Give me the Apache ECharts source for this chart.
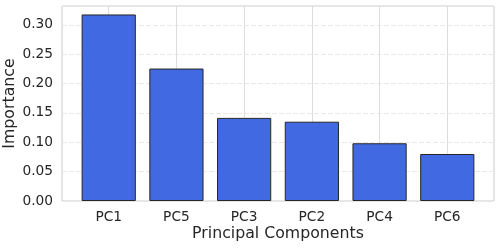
<!DOCTYPE html>
<html>
<head>
<meta charset="utf-8">
<script src="https://cdn.jsdelivr.net/npm/echarts@6/dist/echarts.min.js"></script>
<style>html,body{margin:0;padding:0;background:#fff}#c{width:500px;height:249px}</style>
</head>
<body>
<div id="c"></div>
<script>
var categories = ['PC1', 'PC5', 'PC3', 'PC2', 'PC4', 'PC6'];
var importance = [0.3176, 0.2255, 0.1415, 0.1350, 0.0983, 0.0800];
var yTicks = [0, 0.05, 0.10, 0.15, 0.20, 0.25, 0.30];

var positions = categories.map(function (c, i) { return i; });
var data = categories.map(function (c, i) { return [i, importance[i]]; });

var chart = echarts.init(document.getElementById('c'), null, {renderer: 'canvas'});
var font = 'DejaVu Sans';
var txt = '#262626';
chart.setOption({
  animation: false,
  backgroundColor: '#ffffff',
  grid: {left: 62, right: 6, top: 6, bottom: 48, containLabel: false, outerBoundsMode: 'none',
    show: true, borderColor: '#cccccc', borderWidth: 1, backgroundColor: '#ffffff'},
  xAxis: {
    type: 'value', min: -0.69, max: 5.69,
    name: 'Principal Components', nameLocation: 'middle', nameGap: 25, nameMoveOverlap: false,
    nameTextStyle: {fontFamily: font, fontSize: 15.75, color: txt},
    axisLine: {show: false},
    axisTick: {show: false, customValues: positions},
    axisLabel: {customValues: positions, fontFamily: font, fontSize: 13.75, color: txt, margin: 9,
      formatter: function (v) { return categories[Math.round(v)]; }},
    splitLine: {show: true, lineStyle: {color: '#dddddd', width: 1}}
  },
  yAxis: {
    type: 'value', min: 0, max: 0.332, interval: 0.05,
    name: 'Importance', nameLocation: 'middle', nameGap: 44, nameMoveOverlap: false,
    nameTextStyle: {fontFamily: font, fontSize: 15.75, color: txt},
    axisLine: {show: false},
    axisTick: {show: false},
    axisLabel: {fontFamily: font, fontSize: 13.75, color: txt, margin: 9, showMaxLabel: false,
      formatter: function (v) { return yTicks.some(function (t) { return Math.abs(t - v) < 1e-9; }) ? v.toFixed(2) : ''; }},
    splitLine: {show: true, lineStyle: {color: '#e8e8e8', width: 1, type: [5, 2]}}
  },
  series: [{
    type: 'bar',
    data: data,
    barWidth: 54.2,
    itemStyle: {color: '#4169E1', borderColor: '#262626', borderWidth: 1}
  }]
});
</script>
</body>
</html>
